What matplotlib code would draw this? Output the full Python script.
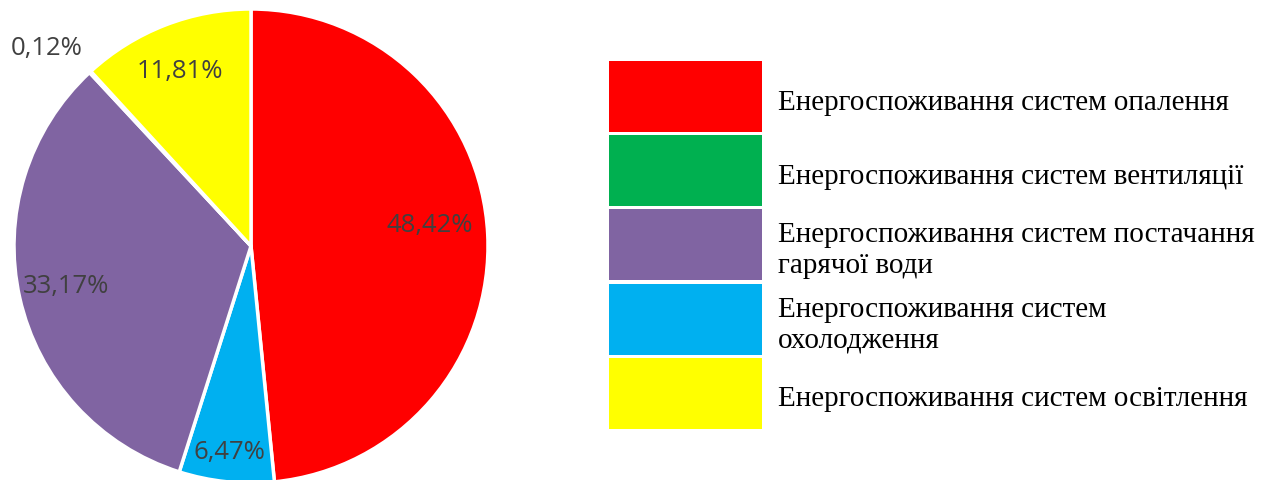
import numpy as np
import matplotlib.pyplot as plt
from matplotlib.patches import Rectangle

# categories in legend order
labels = [
    "Енергоспоживання систем опалення",
    "Енергоспоживання систем вентиляції",
    "Енергоспоживання систем постачання\nгарячої води",
    "Енергоспоживання систем\nохолодження",
    "Енергоспоживання систем освітлення",
]
shares = [48.42, 0.12, 33.17, 6.47, 11.81]
colors = ["#FF0000", "#00B050", "#8064A2", "#00B0F0", "#FFFF00"]

# order of slices clockwise from 12 o'clock
pie_order = [0, 3, 2, 1, 4]
# radial position / angular nudge of each percentage label (pie order)
label_dist = [0.76, 0.87, 0.80, 1.20, 0.80]
label_nudge = [3.9, 0.0, -0.6, 3.1, 0.6]

W, H = 1275, 481
fig = plt.figure(figsize=(W / 100, H / 100), dpi=100)

# pie axes, square in pixels
cx, cy, r = 251, 247, 237
ax = fig.add_axes([(cx - r) / W, (H - cy - r) / H, 2 * r / W, 2 * r / H])

vals = [shares[i] for i in pie_order]
cols = [colors[i] for i in pie_order]
wedges, _ = ax.pie(vals, colors=cols, startangle=90, counterclock=False,
                   radius=1.0, center=(0, 0), frame=False,
                   wedgeprops=dict(edgecolor="white", linewidth=2.5))
ax.set_xlim(-1, 1)
ax.set_ylim(-1, 1)
ax.set_aspect("auto")
ax.axis("off")

for w, v, d, n in zip(wedges, vals, label_dist, label_nudge):
    ang = np.deg2rad((w.theta1 + w.theta2) / 2 + n)
    ax.text(d * np.cos(ang), d * np.sin(ang), f"{v:.2f}%".replace(".", ","),
            ha="center", va="center", fontsize=18.5, color="#404040",
            family="Open Sans")

# legend drawn in pixel coordinates
lg = fig.add_axes([0, 0, 1, 1])
lg.set_xlim(0, W)
lg.set_ylim(H, 0)
lg.axis("off")
box_x, box_w = 609, 153
top, pitch, box_h = 62, 74.2, 71
for i, (lab, col) in enumerate(zip(labels, colors)):
    y0 = top + i * pitch
    lg.add_patch(Rectangle((box_x, y0), box_w, box_h, facecolor=col, edgecolor="none"))
    lg.text(box_x + box_w + 16, y0 + box_h / 2 + 5, lab, ha="left", va="center",
            fontsize=21, family="Liberation Serif", color="black", linespacing=1.25)

fig.savefig("out.png", dpi=100)
